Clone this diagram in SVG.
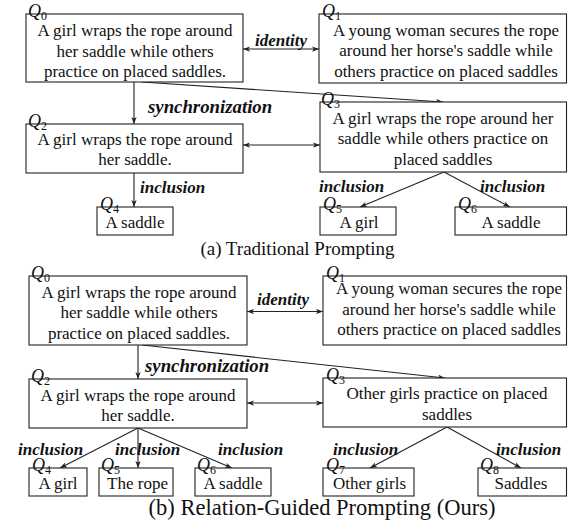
<svg xmlns="http://www.w3.org/2000/svg" width="568" height="522" viewBox="0 0 568 522">
<style>
.box{fill:#fff;stroke:#222;stroke-width:1.1}
.t{font-family:"Liberation Serif","Times New Roman",serif;font-size:17px;fill:#111;text-anchor:middle}
.q{font-family:"Liberation Serif","Times New Roman",serif;font-size:18px;font-style:italic;fill:#111}
.sub{font-size:12px;font-style:normal}
.rel{font-family:"Liberation Serif","Times New Roman",serif;font-size:17px;font-weight:bold;font-style:italic;fill:#111}
.sync{font-size:18.8px}
.cap{font-family:"Liberation Serif","Times New Roman",serif;fill:#111;text-anchor:middle}
.ln{stroke:#222;stroke-width:1.1;fill:none;marker-end:url(#ah)}
.dbl{marker-start:url(#ah)}
</style>
<defs>
<marker id="ah" viewBox="0 0 8 6" refX="8" refY="3" markerWidth="7" markerHeight="5.5" markerUnits="userSpaceOnUse" orient="auto-start-reverse">
<path d="M0,0 L8,3 L0,6 L2,3 z" fill="#222"/>
</marker>
</defs>
<rect width="568" height="522" fill="#fff"/>

<g id="connectors">
<!-- top -->
<line class="ln dbl" x1="243" y1="49" x2="319" y2="49"/>
<line class="ln" x1="134" y1="82" x2="134" y2="124"/>
<line class="ln" x1="142" y1="82" x2="443" y2="102"/>
<line class="ln dbl" x1="243" y1="145" x2="320" y2="145"/>
<line class="ln" x1="134" y1="173" x2="134" y2="207"/>
<line class="ln" x1="444" y1="172" x2="360" y2="207"/>
<line class="ln" x1="444" y1="172" x2="510" y2="207"/>
<!-- bottom -->
<line class="ln dbl" x1="247" y1="311.5" x2="323" y2="311.5"/>
<line class="ln" x1="138" y1="345" x2="138" y2="379"/>
<line class="ln" x1="142" y1="345" x2="445" y2="378"/>
<line class="ln dbl" x1="247" y1="403" x2="323" y2="403"/>
<line class="ln" x1="138" y1="428" x2="60" y2="468"/>
<line class="ln" x1="138" y1="428" x2="138" y2="468"/>
<line class="ln" x1="138" y1="428" x2="232" y2="468"/>
<line class="ln" x1="447" y1="427" x2="370" y2="468"/>
<line class="ln" x1="447" y1="427" x2="521" y2="468"/>
<!-- labels -->
<text class="rel" x="255" y="46">identity</text>
<text class="rel sync" x="148" y="113">synchronization</text>
<text class="rel" x="140" y="193">inclusion</text>
<text class="rel" x="319" y="192">inclusion</text>
<text class="rel" x="480" y="192">inclusion</text>
<text class="rel" x="257" y="305">identity</text>
<text class="rel sync" x="145" y="372">synchronization</text>
<text class="rel" x="18" y="455">inclusion</text>
<text class="rel" x="115" y="455">inclusion</text>
<text class="rel" x="218" y="455">inclusion</text>
<text class="rel" x="333" y="455">inclusion</text>
<text class="rel" x="496" y="455">inclusion</text>
</g>

<!-- (a) Traditional Prompting -->
<g id="a-Q0">
<rect class="box" x="26" y="14" width="217" height="68"/>
<text class="q" x="28" y="17">Q<tspan class="sub" dy="3">0</tspan></text>
<text class="t" x="135" y="36">A girl wraps the rope around</text>
<text class="t" x="135" y="56.7">her saddle while others</text>
<text class="t" x="135" y="77.3">practice on placed saddles.</text>
</g>
<g id="a-Q1">
<rect class="box" x="319" y="14" width="247.5" height="69"/>
<text class="q" x="322" y="17">Q<tspan class="sub" dy="3">1</tspan></text>
<text class="t" x="446" y="35.5">A young woman secures the rope</text>
<text class="t" x="446" y="56">around her horse's saddle while</text>
<text class="t" x="446" y="76.5">others practice on placed saddles</text>
</g>
<g id="a-Q2">
<rect class="box" x="26" y="124" width="217" height="49"/>
<text class="q" x="28" y="127">Q<tspan class="sub" dy="3">2</tspan></text>
<text class="t" x="135" y="145">A girl wraps the rope around</text>
<text class="t" x="135" y="165">her saddle.</text>
</g>
<g id="a-Q3">
<rect class="box" x="320" y="102" width="246.5" height="70"/>
<text class="q" x="321" y="105">Q<tspan class="sub" dy="3">3</tspan></text>
<text class="t" x="443" y="123.5">A girl wraps the rope around her</text>
<text class="t" x="443" y="144">saddle while others practice on</text>
<text class="t" x="443" y="164.5">placed saddles</text>
</g>
<g id="a-Q4">
<rect class="box" x="97" y="207" width="76" height="28"/>
<text class="q" x="100" y="210">Q<tspan class="sub" dy="3">4</tspan></text>
<text class="t" x="135" y="227.5">A saddle</text>
</g>
<g id="a-Q5">
<rect class="box" x="320" y="207" width="76" height="28"/>
<text class="q" x="323" y="210">Q<tspan class="sub" dy="3">5</tspan></text>
<text class="t" x="359" y="227.5">A girl</text>
</g>
<g id="a-Q6">
<rect class="box" x="455" y="207" width="111.5" height="28"/>
<text class="q" x="458" y="210">Q<tspan class="sub" dy="3">6</tspan></text>
<text class="t" x="511" y="227.5">A saddle</text>
</g>
<text class="cap" x="297.5" y="255" font-size="19">(a) Traditional Prompting</text>

<!-- (b) Relation-Guided Prompting -->
<g id="b-Q0">
<rect class="box" x="29" y="276" width="218" height="69"/>
<text class="q" x="31" y="279">Q<tspan class="sub" dy="3">0</tspan></text>
<text class="t" x="139" y="297.7">A girl wraps the rope around</text>
<text class="t" x="139" y="318.3">her saddle while others</text>
<text class="t" x="139" y="338.6">practice on placed saddles.</text>
</g>
<g id="b-Q1">
<rect class="box" x="323" y="276" width="243.5" height="69"/>
<text class="q" x="326" y="279">Q<tspan class="sub" dy="3">1</tspan></text>
<text class="t" x="449" y="294.3">A young woman secures the rope</text>
<text class="t" x="449" y="314.6">around her horse's saddle while</text>
<text class="t" x="449" y="335">others practice on placed saddles</text>
</g>
<g id="b-Q2">
<rect class="box" x="29" y="379" width="218" height="49"/>
<text class="q" x="31" y="382">Q<tspan class="sub" dy="3">2</tspan></text>
<text class="t" x="138" y="401">A girl wraps the rope around</text>
<text class="t" x="138" y="420.5">her saddle.</text>
</g>
<g id="b-Q3">
<rect class="box" x="323" y="378" width="243.5" height="49"/>
<text class="q" x="326" y="381">Q<tspan class="sub" dy="3">3</tspan></text>
<text class="t" x="447" y="398.5">Other girls practice on placed</text>
<text class="t" x="447" y="419.5">saddles</text>
</g>
<g id="b-Q4">
<rect class="box" x="29" y="468" width="58" height="28"/>
<text class="q" x="32" y="471">Q<tspan class="sub" dy="3">4</tspan></text>
<text class="t" x="58" y="488.5">A girl</text>
</g>
<g id="b-Q5">
<rect class="box" x="99" y="468" width="74" height="28"/>
<text class="q" x="101" y="471">Q<tspan class="sub" dy="3">5</tspan></text>
<text class="t" x="137.5" y="488.5">The rope</text>
</g>
<g id="b-Q6">
<rect class="box" x="195" y="468" width="76" height="28"/>
<text class="q" x="197" y="471">Q<tspan class="sub" dy="3">6</tspan></text>
<text class="t" x="233" y="488.5">A saddle</text>
</g>
<g id="b-Q7">
<rect class="box" x="323" y="468" width="91" height="28"/>
<text class="q" x="326" y="471">Q<tspan class="sub" dy="3">7</tspan></text>
<text class="t" x="369.5" y="488.5">Other girls</text>
</g>
<g id="b-Q8">
<rect class="box" x="478" y="468" width="88.5" height="28"/>
<text class="q" x="480" y="471">Q<tspan class="sub" dy="3">8</tspan></text>
<text class="t" x="521" y="488.5">Saddles</text>
</g>
<text class="cap" x="322" y="515" font-size="22.5">(b) Relation-Guided Prompting (Ours)</text>
</svg>
